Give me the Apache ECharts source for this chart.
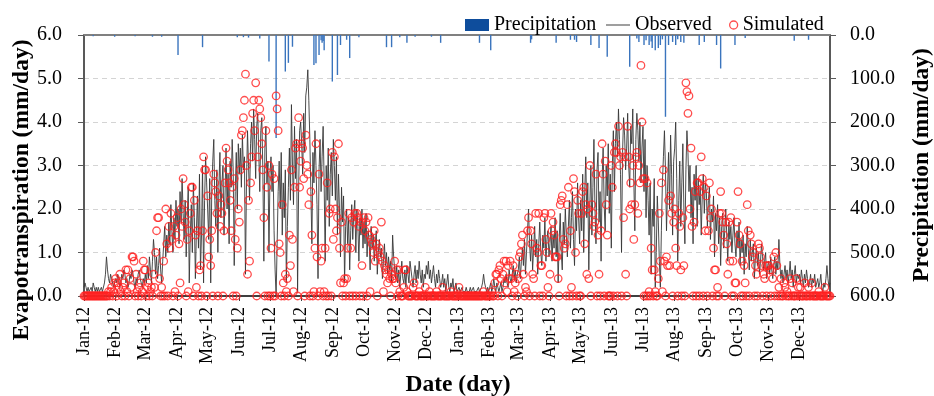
<!DOCTYPE html>
<html>
<head>
<meta charset="utf-8">
<script src="https://cdn.jsdelivr.net/npm/echarts@6/dist/echarts.min.js"></script>
<style>
  html, body { margin: 0; padding: 0; background: #ffffff; }
  #chart { width: 934px; height: 396px; }
</style>
</head>
<body>
<div id="chart"></div>
<script>
// Month tick labels along the date axis
const monthLabels = ['Jan-12','Feb-12','Mar-12','Apr-12','May-12','Jun-12','Jul-12','Aug-12','Sep-12','Oct-12','Nov-12','Dec-12',
                     'Jan-13','Feb-13','Mar-13','Apr-13','May-13','Jun-13','Jul-13','Aug-13','Sep-13','Oct-13','Nov-13','Dec-13'];
const years = [2012, 2013];

// Observed daily evapotranspiration (mm/day), one row per month
const observed = [
  [0.2,0.3,0.2,0.1,0.2,0.1,0.1,0.2,0.1,0.3,0.2,0.1,0.2,0.1,0.2,0.1,0.1,0.2,0.1,0.1,0.3,0.5,0.9,0.6,0.4,0.3,0.5,0.4,0.3,0.2,0.3],
  [0.4,0.3,0.5,0.4,0.2,0.3,0.5,0.4,0.6,0.5,0.3,0.4,0.2,0.3,0.5,0.4,0.6,0.5,0.3,0.2,0.4,0.3,0.5,0.6,0.4,0.3,0.2,0.4,0.3],
  [0.5,0.3,0.7,0.4,0.9,0.6,0.3,0.8,1.3,1.0,0.5,0.9,0.4,0.7,1.1,0.6,0.3,0.8,1.2,1.6,0.9,1.4,1.0,1.7,1.2,2.1,1.5,1.0,1.8,1.3,2.2],
  [1.6,2.0,1.2,2.4,1.7,2.7,1.9,1.3,2.2,0.9,1.8,2.5,0.3,1.4,2.1,1.0,2.6,1.8,0.4,1.5,2.3,1.1,2.8,0.6,1.4,3.0,0.3,2.2,3.2,2.6],
  [2.0,1.3,2.7,0.3,2.4,3.1,3.6,2.2,1.6,2.9,1.0,2.5,3.3,1.8,2.6,3.0,1.4,2.3,3.4,2.0,2.8,1.2,3.1,2.5,3.6,2.9,0.7,2.4,3.3,2.0,3.5],
  [2.8,3.4,2.5,3.7,2.9,3.2,0.5,2.6,3.8,3.0,2.2,3.5,4.0,3.1,4.3,3.6,2.7,3.9,4.2,3.3,2.4,3.8,4.1,2.9,0.8,3.4,3.9,2.6,3.1,1.0],
  [2.8,3.2,2.4,3.0,1.5,0.6,0.0,1.2,2.4,3.1,2.0,3.3,1.4,2.6,1.8,2.9,0.3,1.6,2.5,3.4,2.2,4.4,3.0,2.1,3.9,2.7,3.6,0.1,2.4,3.8,4.0],
  [3.5,2.8,4.2,3.3,4.6,4.8,5.2,4.5,3.6,2.4,1.2,3.3,2.6,3.8,3.0,2.1,0.4,2.9,3.6,2.4,3.2,3.9,2.6,0.8,3.0,2.2,3.4,1.6,2.8,3.3,2.3],
  [3.6,3.0,2.2,3.2,1.4,2.8,2.0,0.9,2.5,1.7,2.3,0.3,1.6,2.0,1.2,1.8,0.6,1.5,2.1,1.3,1.9,2.2,1.0,2.0,1.6,0.8,1.8,1.4,2.0,1.1],
  [1.7,1.2,1.9,0.9,1.5,1.3,0.6,1.6,1.1,1.4,0.8,1.2,1.5,0.5,1.0,1.3,0.9,1.1,0.4,0.8,1.2,0.7,1.0,0.5,0.9,0.6,0.8,0.3,1.4,0.9,0.6],
  [0.4,0.7,0.3,0.6,0.2,0.5,0.8,0.4,0.3,0.6,0.2,0.7,0.5,0.3,0.8,0.6,0.4,0.2,0.5,0.7,0.3,0.6,0.4,0.8,0.5,0.3,0.6,0.2,0.5,0.4],
  [0.7,0.5,0.8,0.4,0.6,0.3,0.5,0.7,0.4,0.2,0.5,0.3,0.6,0.4,0.2,0.3,0.5,0.2,0.4,0.1,0.3,0.5,0.2,0.1,0.3,0.2,0.4,0.1,0.2,0.3,0.1],
  [0.1,0.2,0.1,0.1,0.2,0.1,0.1,0.1,0.2,0.1,0.1,0.1,0.2,0.1,0.1,0.2,0.1,0.1,0.1,0.1,0.2,0.1,0.1,0.2,0.3,0.5,0.3,0.2,0.1,0.2,0.1],
  [0.2,0.3,0.1,0.2,0.4,0.2,0.1,0.3,0.2,0.1,0.2,0.3,0.1,0.2,0.4,0.3,0.5,0.3,0.2,0.6,0.4,0.3,0.5,0.7,0.4,0.6,0.3,0.5],
  [0.6,0.9,0.4,0.8,1.1,0.7,1.3,0.5,1.0,1.5,2.0,1.2,0.8,1.4,0.6,1.1,1.6,0.9,1.3,0.5,1.2,1.7,1.0,0.7,1.4,1.1,1.8,0.8,1.3,1.5,0.9],
  [1.2,1.6,0.8,1.4,1.1,1.8,0.9,1.5,0.3,1.3,1.9,1.0,0.6,1.7,1.2,2.0,1.4,0.9,1.6,2.2,1.1,1.8,2.4,1.3,0.7,2.0,1.5,2.6,1.8,1.2],
  [2.2,1.5,2.8,1.0,2.4,3.2,1.8,2.6,0.6,2.1,3.0,1.4,2.5,3.6,2.0,1.2,2.9,3.3,1.7,2.4,0.8,2.7,3.4,2.1,1.5,3.0,2.3,3.5,1.9,2.8,1.1],
  [3.0,3.8,2.4,3.5,4.0,3.2,4.3,3.6,2.8,1.0,3.3,4.1,3.7,2.9,3.4,4.2,3.0,2.5,3.9,3.5,4.3,2.7,1.5,3.6,4.2,3.8,3.1,4.0,2.6,3.4],
  [3.9,2.4,3.6,1.8,3.0,2.2,1.4,2.6,0.5,2.0,1.6,2.7,0.2,1.0,2.3,1.7,0.8,0.2,1.5,2.6,3.2,3.8,2.9,1.5,2.4,3.3,2.0,3.7,2.8,1.4,3.1],
  [3.4,4.0,2.7,0.8,2.2,3.1,1.6,2.6,3.5,2.0,1.2,2.9,3.8,3.3,2.4,3.0,1.8,2.5,1.2,2.8,2.2,3.0,1.6,2.7,2.1,2.5,1.4,2.3,2.8,1.9,2.6],
  [2.4,1.6,2.2,2.5,1.3,2.0,1.7,2.3,0.9,1.9,1.5,2.1,1.2,1.8,0.7,1.6,1.9,1.1,1.5,2.0,1.4,0.8,1.7,1.3,1.6,1.0,1.4,1.8,1.2,0.9],
  [1.5,1.1,1.7,0.7,1.3,1.0,1.4,0.5,1.2,0.9,1.6,1.1,0.6,1.3,0.8,1.0,1.2,0.4,0.9,1.1,0.7,1.0,0.5,0.8,1.2,0.9,0.6,0.8,1.0,0.4,0.7],
  [0.8,0.5,0.9,0.6,0.4,0.7,0.9,0.5,0.8,0.6,1.3,0.7,0.4,0.6,0.3,0.5,0.7,0.4,0.6,0.3,0.5,0.8,0.4,0.6,0.2,0.5,0.7,0.3,0.5,0.4],
  [0.5,0.3,0.6,0.4,0.2,0.5,0.3,0.6,0.4,0.2,0.3,0.5,0.2,0.4,0.3,0.5,0.2,0.3,0.4,0.2,0.3,0.5,0.2,0.1,0.3,0.2,0.4,0.7,0.4,0.2,0.3]
];

// Simulated daily evapotranspiration (mm/day), one row per month
const simulated = [
  [0,0,0,0,0,0,0,0,0,0,0,0,0,0,0,0,0,0,0,0,0,0,0,0,0.1,0,0.1,0.2,0,0.1,0.3],
  [0.4,0,0.3,0.2,0.5,0.1,0,0.2,0.3,0,0.6,0.1,0.6,0,0.4,0.2,0.9,0.9,0.8,0,0.5,0.1,0,0.2,0.3,0,0.1,0.8,0.6],
  [0.6,0,0.2,0.3,0,0.1,0.2,0,0.5,0.2,1.0,1.5,1.8,1.8,0.4,0,0.2,0,0.8,0,2.0,1.2,0,1.6,1.1,1.9,1.3,0,1.6,0.1,1.4],
  [1.8,0,1.2,0.3,2.0,1.6,2.7,2.1,1.7,0,1.3,0.1,1.5,1.9,2.5,2.5,0,2.2,1.4,0.2,1.5,0,0.6,0.7,0,1.5,3.2,2.9,2.9,0],
  [2.3,0.9,1.3,0.7,1.5,0,2.8,2.6,2.4,1.9,0,2.3,1.6,2.1,1.9,0,1.5,2.6,3.4,3.1,2.9,2.6,2.2,1.5,2.5,0,2.7,1.3,0,1.1,2.0],
  [1.7,2.9,3.7,3.8,4.1,4.5,5.1,3.0,0.5,2.2,0.8,2.6,3.2,4.2,4.5,3.8,4.9,0,3.2,4.5,4.3,4.1,3.5,2.9,1.8,0,3.8,2.5,0,3.0],
  [0,1.1,2.8,0,2.7,0,4.6,4.3,3.8,1.2,1.0,0,2.1,0.3,0,0.5,0.1,0.4,0,1.4,0.7,2.9,1.3,0.1,2.5,3.4,3.5,0,4.1,2.5,3.1],
  [3.5,3.4,2.7,0,3.7,3.0,2.8,2.1,0,2.4,1.4,0,0.1,1.1,3.5,0.9,0,2.8,0.1,0.8,1.1,0,0.1,1.1,0,2.6,0,1.9,2.0,0,3.3],
  [1.3,3.2,2.0,1.5,1.8,3.5,1.1,0.3,1.7,0,0.3,0.4,0,0.4,1.1,1.9,0,1.1,1.8,0,1.7,1.9,0,1.9,1.8,1.6,0,1.7,0.7,0],
  [1.8,1.5,1.7,0,1.8,1.4,0.1,1.3,1.2,1.0,1.5,0.8,1.2,0,1.0,1.1,0.9,1.7,0.8,0.1,0.7,0.6,0.5,0.3,0.6,0.4,0,0.5,0.4,0.4,0.8],
  [0.3,0.6,0,0.6,0.1,0,0,0,0.2,0.6,0.6,0.1,0,0,0,0,0,0.2,0.3,0,0,0,0,0.1,0,0,0,0,0,0.2],
  [0,0,0,0.1,0,0,0,0,0,0,0.1,0,0,0,0,0,0.2,0,0,0,0,0,0,0,0.1,0,0,0,0,0,0],
  [0,0.2,0,0,0,0,0,0,0,0,0,0,0,0,0,0,0,0,0,0,0,0,0,0,0,0.1,0,0,0,0,0],
  [0,0,0.1,0,0,0.3,0.5,0.5,0,0.6,0.7,0.4,0,0.5,0.8,0.3,0.8,0.1,0.7,0.4,0.8,0.4,0,0.7,0.1,0.3,0.5,0],
  [0.4,0.9,1.0,1.2,1.4,0.5,0,0.2,0.1,1.5,1.8,0,1.5,1.2,0.5,0.4,0,1.9,1.1,1.0,1.9,0,0.7,0.7,0,1.8,1.9,1.3,1.0,0.2,0],
  [0.5,1.9,1.5,1.7,1.4,0.9,0.9,0.9,0.4,0,2.1,2.2,2.3,1.3,1.1,1.2,0,2.1,2.5,0,1.5,0.2,0,2.7,2.4,1.0,0,2.2,1.9,0],
  [0,1.9,2.4,2.5,1.2,2.1,0.5,2.0,0.4,3.0,0,2.1,1.9,1.6,1.7,2.8,0,1.4,0.5,0,1.5,3.5,2.8,0,3.1,2.1,1.4,0,0,0,3.0],
  [2.5,0,3.3,3.5,3.3,0,3.9,3.0,3.2,0,3.3,1.8,3.2,0.5,0,3.9,3.2,2.0,2.6,2.1,3.0,1.3,2.1,3.2,3.3,1.9,3.0,2.6,5.3,4.0],
  [2.7,0,2.7,0,2.6,0,0.1,0,1.1,0.6,0,0.6,0.1,0,0,0.4,1.9,0.8,2.6,0.1,2.9,0.8,0,0.9,0.7,2.2,0.7,2.3,1.9,0,1.7],
  [2.0,1.1,0.7,0,1.9,1.6,0.6,0,1.8,0.7,0,4.9,4.7,4.2,4.6,2.0,3.4,1.6,0,1.7,2.4,0,2.6,2.6,0,2.4,3.2,2.7,0,2.5,1.5],
  [2.3,0,1.5,2.6,1.8,2.0,0,1.1,0.6,0.6,0,0.2,0,1.9,2.4,1.9,1.7,1.4,0,1.7,1.2,0.5,1.7,0.8,1.8,0,0.8,0,0.3,0.3],
  [1.7,2.4,1.4,1.2,0,0.8,0,0.7,0.3,0,2.1,1.5,0,1.4,1.2,0.9,1.0,0,0.7,0.5,0,1.2,1.1,0.9,0.7,0,0.5,0.4,0.7,0,0.7],
  [0.7,0.6,0,0.6,0.4,0.9,0,1.0,0.7,0,0.2,0,0.4,0,0,0.3,0.2,0,0.1,0,0,0.4,0,0.3,0,0,0,0.4,0,0.2],
  [0,0.2,0,0,0,0.3,0,0,0,0.2,0,0,0.3,0,0,0,0,0,0,0.1,0,0,0,0,0,0.2,0,0,0,0,0]
];

// Rainy days: [date, precipitation in mm/day]
const precipitation = [
  ['2012-01-10',3],['2012-01-31',4],['2012-02-20',3],['2012-03-08',4],['2012-03-17',4],['2012-04-02',46],['2012-04-26',28],
  ['2012-05-30',5],['2012-06-05',5],['2012-06-10',6],['2012-06-21',8],['2012-06-30',61],['2012-07-07',237],['2012-07-16',84],
  ['2012-07-19',64],['2012-07-23',27],['2012-08-13',69],['2012-08-15',65],['2012-08-18',46],['2012-08-20',12],['2012-08-21',18],
  ['2012-08-22',14],['2012-08-23',35],['2012-08-31',107],['2012-09-05',92],['2012-09-08',23],['2012-09-14',11],['2012-09-17',53],
  ['2012-09-26',5],['2012-10-23',28],['2012-10-28',28],['2012-11-05',5],['2012-11-12',18],['2012-11-20',4],['2012-12-06',4],
  ['2012-12-15',18],['2013-01-22',18],['2013-02-02',35],['2013-03-13',18],['2013-03-14',10],['2013-04-07',18],['2013-04-21',11],
  ['2013-04-25',11],['2013-04-27',16],['2013-05-11',23],['2013-05-19',30],['2013-05-27',50],['2013-06-18',73],['2013-06-25',8],
  ['2013-06-27',16],['2013-07-02',23],['2013-07-04',12],['2013-07-07',23],['2013-07-09',15],['2013-07-10',30],['2013-07-13',35],
  ['2013-07-16',30],['2013-07-18',23],['2013-07-20',10],['2013-07-23',188],['2013-07-26',23],['2013-07-30',16],['2013-08-02',23],
  ['2013-08-04',10],['2013-08-07',16],['2013-08-10',18],['2013-08-25',23],['2013-08-30',16],['2013-09-11',23],['2013-09-15',77],
  ['2013-09-29',23],['2013-10-09',7],['2013-11-26',13],['2013-12-10',11]
];

// Build the daily category axis and align every series to it
const pad = n => (n < 10 ? '0' : '') + n;
const dates = [];
const labelAt = {};
const obsDaily = [];
const simDaily = [];
let monthIdx = 0;
years.forEach(year => {
  for (let mo = 0; mo < 12; mo++, monthIdx++) {
    const days = new Date(Date.UTC(year, mo + 1, 0)).getUTCDate();
    for (let d = 1; d <= days; d++) {
      const key = year + '-' + pad(mo + 1) + '-' + pad(d);
      if (d === 1) labelAt[key] = monthLabels[monthIdx];
      dates.push(key);
      const o = observed[monthIdx][d - 1];
      const s = simulated[monthIdx][d - 1];
      obsDaily.push(o === undefined ? null : o);
      simDaily.push(s === undefined ? null : s);
    }
  }
});
const rainDaily = dates.map(() => null);
precipitation.forEach(([day, mm]) => {
  const i = dates.indexOf(day);
  if (i >= 0) rainDaily[i] = mm;
});

const isMonthStart = (index) => labelAt[dates[index]] !== undefined;
const SERIF = '"Liberation Serif", "Times New Roman", serif';
const legendText = { fontFamily: SERIF, fontSize: 20, color: '#000' };

const chart = echarts.init(document.getElementById('chart'), null, { renderer: 'canvas' });
chart.setOption({
  animation: false,
  backgroundColor: '#ffffff',
  textStyle: { fontFamily: SERIF, color: '#000' },
  grid: { left: 84, right: 104, top: 35, bottom: 100, containLabel: false },
  legend: [
    {
      data: [{ name: 'Precipitation', icon: 'rect', itemStyle: { color: '#0e4d9c' } }],
      left: 460, top: 10, itemWidth: 24, itemHeight: 12, itemGap: 0,
      textStyle: legendText, selectedMode: false
    },
    {
      data: [{ name: 'Observed', icon: 'rect', itemStyle: { color: '#7f7f7f', borderWidth: 0 } }],
      left: 601, top: 10, itemWidth: 24, itemHeight: 1.5, itemGap: 0,
      textStyle: legendText, selectedMode: false
    },
    {
      data: [{ name: 'Simulated', icon: 'circle', itemStyle: { color: 'rgba(255,255,255,0)', borderColor: '#ff2020', borderWidth: 1.3 } }],
      left: 724, top: 10, itemWidth: 8, itemHeight: 8, itemGap: 0,
      textStyle: legendText, selectedMode: false
    }
  ],
  xAxis: [
    {
      type: 'category',
      data: dates,
      boundaryGap: false,
      position: 'bottom',
      axisLine: { onZero: false, lineStyle: { color: '#404040', width: 2 } },
      axisTick: { show: true, interval: isMonthStart, length: 5, lineStyle: { color: '#404040', width: 1 } },
      axisLabel: {
        interval: isMonthStart,
        rotate: 90,
        margin: 11,
        fontFamily: SERIF,
        fontSize: 18,
        color: '#000',
        formatter: (value) => labelAt[value] || ''
      },
      splitLine: { show: false }
    },
    {
      type: 'category',
      data: dates,
      boundaryGap: false,
      position: 'top',
      axisLine: { onZero: false, lineStyle: { color: '#808080', width: 2 } },
      axisTick: { show: false },
      axisLabel: { show: false },
      splitLine: { show: false }
    }
  ],
  yAxis: [
    {
      type: 'value',
      min: 0, max: 6, interval: 1,
      position: 'left',
      axisLine: { show: true, lineStyle: { color: '#595959', width: 2 } },
      axisTick: { show: true, length: 6, lineStyle: { color: '#595959', width: 1 } },
      axisLabel: { margin: 22, fontFamily: SERIF, fontSize: 20, color: '#000', formatter: v => v.toFixed(1) },
      splitLine: { show: true, lineStyle: { color: '#d4d4d4', width: 1, type: [5, 4] } }
    },
    {
      type: 'value',
      min: 0, max: 600, interval: 100,
      inverse: true,
      position: 'right',
      axisLine: { show: true, lineStyle: { color: '#595959', width: 2 } },
      axisTick: { show: true, length: 6, lineStyle: { color: '#595959', width: 1 } },
      axisLabel: { margin: 20, fontFamily: SERIF, fontSize: 20, color: '#000', formatter: v => v.toFixed(1) },
      splitLine: { show: false }
    }
  ],
  series: [
    {
      name: 'Precipitation',
      type: 'bar',
      xAxisIndex: 1,
      yAxisIndex: 1,
      data: rainDaily,
      barWidth: 1.4,
      itemStyle: { color: '#3a74bd' },
      z: 1
    },
    {
      name: 'Observed',
      type: 'line',
      xAxisIndex: 0,
      yAxisIndex: 0,
      data: obsDaily,
      symbol: 'none',
      showSymbol: false,
      color: '#383838',
      lineStyle: { color: '#383838', width: 0.9 },
      z: 2
    },
    {
      name: 'Simulated',
      type: 'scatter',
      xAxisIndex: 0,
      yAxisIndex: 0,
      data: simDaily,
      symbol: 'circle',
      symbolSize: 7.5,
      clip: false,
      itemStyle: { color: 'rgba(255,255,255,0)', borderColor: '#ff2020', borderWidth: 1.3 },
      z: 3
    }
  ],
  graphic: [
    {
      type: 'text', x: 22, y: 190, rotation: Math.PI / 2,
      style: { text: 'Evapotranspiration (mm/day)', font: 'bold 23.5px ' + SERIF, fill: '#000', align: 'center', verticalAlign: 'middle' }
    },
    {
      type: 'text', x: 922, y: 165, rotation: Math.PI / 2,
      style: { text: 'Precipitation (mm/day)', font: 'bold 23.5px ' + SERIF, fill: '#000', align: 'center', verticalAlign: 'middle' }
    },
    {
      type: 'text', x: 458, y: 385,
      style: { text: 'Date (day)', font: 'bold 23.5px ' + SERIF, fill: '#000', align: 'center', verticalAlign: 'middle' }
    }
  ]
});
</script>
</body>
</html>
